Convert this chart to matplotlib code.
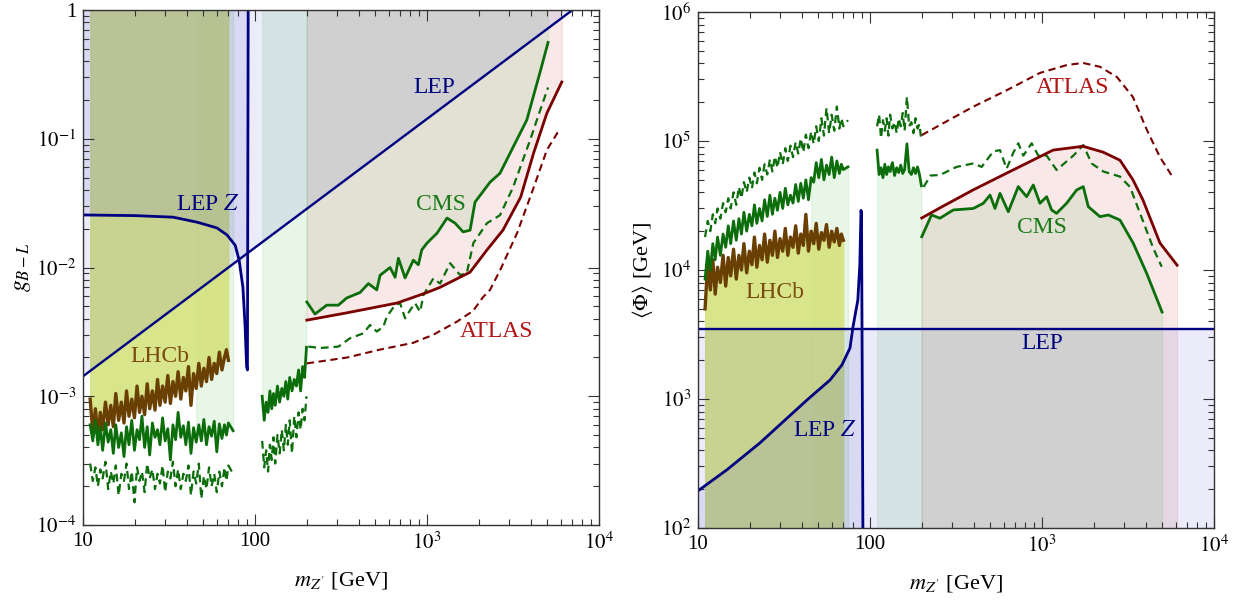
import matplotlib.pyplot as plt
import numpy as np
from matplotlib.ticker import NullFormatter, LogLocator

plt.rcParams['font.family'] = ['Liberation Serif', 'DejaVu Serif']
plt.rcParams['mathtext.fontset'] = 'stix'

# ---- data ----
# mass grids [GeV]
m_low = [11.0, 11.4, 11.8, 12.2, 12.6, 13.0, 13.5, 14.0, 14.5, 15.0, 15.5, 16.1, 16.7, 17.3,
         17.9, 18.5, 19.2, 19.9, 20.6, 21.3, 22.0, 22.8, 23.6, 24.4, 25.3, 26.2, 27.1, 28.0,
         29.0, 30.0, 31.1, 32.2, 33.3, 34.5, 35.7, 37.0, 38.3, 39.6, 41.0, 42.4, 43.9, 45.5,
         47.1, 48.7, 50.4, 52.2, 54.0, 55.9, 57.9, 59.9, 62.0, 64.2, 66.4, 68.2, 70.0, 74.5]
m_mid = [110, 113, 116, 119, 122, 125, 128, 131, 135, 139, 143, 147, 151, 155, 159, 164,
         169, 174, 179, 184, 189, 194, 199]

# left panel: coupling g_{B-L}
lhcb_g = np.array([9.5, 5.2, 8.0, 4.8, 7.5, 5.5, 9.0, 6.0, 8.5, 5.8, 10.5, 6.5, 9.0, 6.2, 11.0,
                   7.0, 9.5, 6.8, 12.0, 7.5, 10.0, 7.2, 12.5, 8.0, 11.0, 7.8, 13.5, 8.5, 12.0,
                   9.0, 14.5, 8.8, 13.0, 10.0, 15.5, 9.5, 14.0, 11.0, 17.0, 8.5, 15.0, 11.5,
                   18.0, 12.0, 16.5, 13.0, 20.0, 13.5, 18.0, 15.0, 22.0, 16.0, 20.0, 23.0,
                   19.0]) * 1e-4
cms_low_g = np.array([6.0, 4.5, 6.5, 4.2, 5.8, 3.8, 6.2, 4.4, 5.5, 3.6, 6.0, 4.0, 5.2, 3.4,
                      5.8, 4.2, 6.5, 3.8, 5.5, 4.6, 7.0, 4.0, 5.8, 3.5, 6.2, 4.8, 5.5, 4.2,
                      6.8, 4.5, 5.6, 3.2, 6.0, 4.6, 7.5, 4.8, 5.9, 4.2, 6.3, 3.6, 5.7, 4.4,
                      6.0, 4.5, 6.6, 4.2, 5.8, 4.9, 6.4, 3.7, 6.1, 4.7, 6.0, 5.0, 6.2, 5.4]) * 1e-4
cms_low_exp_g = np.array([3.0, 2.2, 2.8, 2.0, 2.7, 2.3, 3.1, 1.9, 2.6, 2.1, 2.9, 1.7, 2.5, 2.2,
                          3.0, 1.9, 2.6, 1.5, 2.8, 2.2, 2.6, 1.8, 3.0, 2.3, 2.7, 1.9, 2.5, 2.1,
                          2.9, 1.8, 2.6, 2.3, 3.1, 2.0, 2.7, 1.9, 2.5, 2.2, 2.9, 1.7, 2.6, 2.1,
                          3.0, 1.6, 2.4, 1.9, 2.8, 2.0, 2.5, 1.8, 2.6, 2.0, 2.8, 2.2, 2.9, 2.5]) * 1e-4
cms_mid_g = np.array([10.0, 6.5, 9.0, 7.5, 11.0, 8.0, 10.5, 8.5, 12.0, 9.0, 11.5, 10.0, 13.0,
                      9.5, 14.0, 11.0, 13.5, 12.0, 16.0, 11.0, 17.0, 14.0, 24.0]) * 1e-4
cms_mid_exp_g = np.array([4.5, 2.8, 3.8, 2.6, 4.2, 3.2, 4.8, 3.0, 5.0, 3.6, 5.5, 3.8, 6.0, 4.2,
                          6.5, 3.6, 7.0, 4.8, 7.5, 5.5, 8.0, 6.5, 10.0]) * 1e-4

cms_hi_m = [200, 223, 261, 305, 341, 408, 456, 510, 533, 609, 652, 681, 745, 832, 890, 931,
            1000, 1143, 1306, 1455, 1620, 1778, 1900, 2323, 2655, 3162, 3800, 4540, 5050]
cms_hi_g = [5.4e-3, 4.35e-3, 5.1e-3, 5.1e-3, 5.8e-3, 6.4e-3, 7.5e-3, 6.7e-3, 8.7e-3, 0.0100,
            8.4e-3, 0.0118, 8.3e-3, 0.0114, 0.0105, 0.0137, 0.0155, 0.0185, 0.0242, 0.0221,
            0.0189, 0.0195, 0.0322, 0.046, 0.054, 0.086, 0.14, 0.33, 0.56]
cms_hi_exp_m = [204, 239, 305, 356, 426, 466, 510, 557, 583, 652, 697, 745, 797, 852, 911,
                952, 1088, 1190, 1361, 1556, 1700, 1858, 2230, 2655, 3162, 3975, 4540, 5050]
cms_hi_exp_g = [2.43e-3, 2.37e-3, 2.43e-3, 2.82e-3, 3.08e-3, 3.58e-3, 3.18e-3, 3.47e-3,
                4.15e-3, 5.12e-3, 5.28e-3, 4.03e-3, 4.67e-3, 5.28e-3, 4.53e-3, 6.1e-3,
                8.24e-3, 7.5e-3, 0.0108, 8.75e-3, 9.0e-3, 0.0155, 0.0221, 0.0255, 0.042,
                0.098, 0.166, 0.25]
atlas_m = [200, 343, 670, 1000, 1185, 1778, 2230, 2760, 3500, 4170, 4970, 6070]
atlas_g = [3.9e-3, 4.45e-3, 5.3e-3, 6.4e-3, 7.0e-3, 9.2e-3, 0.0137, 0.0195, 0.0352, 0.0781,
           0.158, 0.276]
atlas_exp_m = [200, 343, 530, 830, 1084, 1492, 1850, 2118, 2323, 2655, 3335, 4170, 4970, 5930]
atlas_exp_g = [1.8e-3, 2.0e-3, 2.3e-3, 2.6e-3, 3.0e-3, 3.8e-3, 4.6e-3, 5.9e-3, 6.7e-3,
               9.5e-3, 0.0185, 0.042, 0.0818, 0.12]
lep_m = [10, 7000]
lep_g = [0.00143, 1.0]
lepz_m = [10, 20, 33.4, 46, 60, 68.7, 76.6, 80.8, 85, 87.5, 89.3, 90.3, 91.2]
lepz_g = [0.0256, 0.0253, 0.0246, 0.0225, 0.0203, 0.0179, 0.0149, 0.0114, 0.0070, 0.0035,
          0.0017, 0.0016, 1.0]

# right panel: vev <Phi> [GeV]
lhcb_v = np.array([5.0, 11.5, 7.0, 12.0, 6.5, 10.5, 8.0, 13.0, 7.5, 12.5, 9.0, 14.5, 8.5, 13.0,
                   10.0, 16.0, 9.5, 14.0, 11.0, 18.0, 10.5, 15.5, 12.0, 19.0, 11.5, 17.0, 13.0,
                   20.0, 12.5, 17.5, 14.0, 21.0, 13.0, 18.0, 15.0, 22.0, 13.5, 19.0, 15.5, 27.0,
                   14.0, 20.0, 16.0, 23.0, 14.5, 19.5, 17.0, 22.5, 15.0, 20.0, 16.5, 21.0, 15.5,
                   19.0, 17.0]) * 1e3
cms_low_v = np.array([8.5, 14, 10, 16, 12, 18, 13, 19, 15, 22, 16, 24, 17, 25, 19, 28, 20, 27,
                      22, 32, 23, 30, 24, 35, 26, 38, 27, 36, 29, 40, 30, 43, 32, 38, 33, 46,
                      34, 47, 36, 50, 35, 52, 48, 68, 52, 72, 50, 65, 55, 75, 52, 70, 56, 66,
                      60, 63]) * 1e3
cms_low_exp_v = np.array([18, 24, 20, 27, 23, 30, 25, 33, 28, 36, 30, 40, 32, 44, 36, 48, 40,
                          52, 43, 57, 47, 62, 50, 66, 55, 72, 58, 76, 62, 82, 66, 88, 70, 92,
                          75, 98, 80, 105, 82, 112, 88, 118, 95, 130, 100, 150, 110, 180, 115,
                          160, 120, 185, 125, 150, 130, 145]) * 1e3
cms_mid_v = np.array([85, 55, 62, 52, 66, 55, 63, 58, 68, 54, 62, 57, 65, 56, 60, 95, 58, 55,
                      62, 56, 63, 55, 45]) * 1e3
cms_mid_exp_v = np.array([130, 160, 105, 145, 120, 150, 110, 160, 125, 140, 115, 150, 130, 165,
                          120, 220, 130, 140, 115, 150, 125, 135, 100]) * 1e3

cms_hi_vm = [200, 228, 255, 305, 399, 456, 499, 533, 570, 637, 728, 814, 890, 973, 1064, 1137,
             1216, 1390, 1590, 1738, 1858, 2173, 2430, 2840, 3395, 4064, 4990]
cms_hi_v = [1.81e4, 2.67e4, 2.52e4, 2.92e4, 3.0e4, 3.29e4, 3.81e4, 3.0e4, 3.93e4, 2.83e4,
            4.43e4, 3.7e4, 4.56e4, 3.29e4, 3.7e4, 2.92e4, 2.75e4, 3.29e4, 4.17e4, 4.43e4,
            3.1e4, 2.59e4, 2.67e4, 2.44e4, 1.61e4, 9.4e3, 4.72e3]
cms_hi_exp_vm = [205, 225, 255, 319, 399, 446, 521, 570, 623, 681, 728, 779, 871, 952, 1064,
                 1216, 1521, 1738, 1944, 2273, 2840, 3250, 3715, 4440, 4965]
cms_hi_exp_v = [4.4e4, 5.4e4, 5.45e4, 6.3e4, 6.7e4, 6.3e4, 8.3e4, 8.5e4, 6.1e4, 8.1e4, 9.6e4,
                7.7e4, 9.6e4, 7.7e4, 7.7e4, 5.96e4, 7.7e4, 9.3e4, 6.7e4, 5.8e4, 5.3e4, 4.4e4,
                2.75e4, 1.47e4, 1.06e4]
atlas_vm = [200, 255, 397, 626, 1160, 1730, 2265, 2840, 3380, 3860, 4850, 6100]
atlas_v = [2.53e4, 3.03e4, 4.17e4, 5.65e4, 8.5e4, 9.1e4, 8.2e4, 7.1e4, 5.0e4, 3.5e4, 1.62e4,
           1.09e4]
atlas_exp_vm = [200, 255, 397, 626, 973, 1396, 1730, 2173, 2730, 3380, 4070, 4850, 5780]
atlas_exp_v = [1.11e5, 1.33e5, 1.84e5, 2.48e5, 3.37e5, 3.88e5, 4.03e5, 3.76e5, 3.13e5, 2.19e5,
               1.22e5, 7.5e4, 5.2e4]
lep_v = 3500
lepz_vm = [10, 14.7, 22.9, 43, 58.5, 68.7, 76.5, 79.6, 85, 87.3, 88.7, 89.3, 91.2]
lepz_v = [194, 282, 456, 981, 1400, 1836, 2480, 3600, 5850, 11000, 29000, 27000, 50]

# ---- styles ----
BLUE = '#3c3cc8'
LHCB_FILL = '#d4e37d'
GREEN = '#22aa22'
RED = '#cc2222'
NAVY = '#000080'
CMS_C = '#0b6e0b'
LHCB_C = '#6a3f02'
ATLAS_C = '#7a0000'
DASH = (0, (3.5, 2.2))


def shade(ax, x, lo, hi, color, alpha):
    ax.fill_between(x, lo, hi, color=color, alpha=alpha, lw=0.8)


def style_axes(ax, ymin, ymax, yticks, ylabels):
    ax.set_xscale('log')
    ax.set_yscale('log')
    ax.set_xlim(10, 1e4)
    ax.set_ylim(ymin, ymax)
    ax.set_xticks([10, 100, 1000, 10000])
    ax.set_xticklabels(['10', '100', r'$10^3$', r'$10^4$'])
    ax.set_yticks(yticks)
    ax.set_yticklabels(ylabels)
    ax.xaxis.set_minor_locator(LogLocator(subs=np.arange(2, 10)))
    ax.yaxis.set_minor_locator(LogLocator(subs=np.arange(2, 10)))
    ax.xaxis.set_minor_formatter(NullFormatter())
    ax.yaxis.set_minor_formatter(NullFormatter())
    ax.tick_params(which='both', direction='in', top=True, right=True, labelsize=15,
                   color='#333333', width=0.8)
    ax.tick_params(which='major', length=8, pad=5)
    ax.tick_params(which='minor', length=4)
    for s in ax.spines.values():
        s.set_color('#333333')
        s.set_linewidth(1.0)
    ax.set_xlabel(r"$m_{Z'}$ [GeV]", fontsize=16, labelpad=12)


fig = plt.figure(figsize=(12.45, 6), dpi=100)

# ================= left panel =================
ax = fig.add_axes([0.0667, 0.125, 0.4145, 0.8583])
top = 1.0
shade(ax, atlas_m, atlas_g, top, RED, 0.1)
shade(ax, cms_hi_m, cms_hi_g, top, GREEN, 0.1)
shade(ax, m_mid, cms_mid_g, top, GREEN, 0.1)
shade(ax, m_low[41:], cms_low_g[41:], top, GREEN, 0.1)
shade(ax, m_low[:55], lhcb_g, top, LHCB_FILL, 0.9)
shade(ax, lep_m, lep_g, top, BLUE, 0.1)
shade(ax, lepz_m, lepz_g, top, BLUE, 0.1)

ax.plot(m_low, cms_low_exp_g, color=CMS_C, lw=1.6, ls=DASH)
ax.plot(m_mid, cms_mid_exp_g, color=CMS_C, lw=1.6, ls=DASH)
ax.plot(cms_hi_exp_m, cms_hi_exp_g, color=CMS_C, lw=1.6, ls=DASH)
ax.plot(atlas_exp_m, atlas_exp_g, color=ATLAS_C, lw=1.5, ls=DASH)
ax.plot(m_low[:55], lhcb_g, color=LHCB_C, lw=2.4)
ax.plot(m_low, cms_low_g, color=CMS_C, lw=2.0)
ax.plot(m_mid, cms_mid_g, color=CMS_C, lw=2.0)
ax.plot(cms_hi_m, cms_hi_g, color=CMS_C, lw=2.0)
ax.plot(atlas_m, atlas_g, color=ATLAS_C, lw=2.0)
ax.plot(lep_m, lep_g, color=NAVY, lw=1.7)
ax.plot(lepz_m, lepz_g, color=NAVY, lw=2.0)

ax.text(1100, 0.248, 'LEP', color=NAVY, fontsize=17, ha='center', va='center')
ax.text(53, 0.031, r'LEP $Z$', color=NAVY, fontsize=17, ha='center', va='center')
ax.text(1206, 0.031, 'CMS', color='#1a7a1a', fontsize=17, ha='center', va='center')
ax.text(28, 2.02e-3, 'LHCb', color='#7a4a10', fontsize=17, ha='center', va='center')
ax.text(2518, 3.21e-3, 'ATLAS', color='#b01515', fontsize=17, ha='center', va='center')

style_axes(ax, 1e-4, 1, [1e-4, 1e-3, 1e-2, 1e-1, 1],
           [r'$10^{-4}$', r'$10^{-3}$', r'$10^{-2}$', r'$10^{-1}$', '1'])
ax.set_ylabel(r'$g_{B-L}$', fontsize=17, labelpad=2)

# ================= right panel =================
ax = fig.add_axes([0.5606, 0.12, 0.4145, 0.86])
bot = 100
shade(ax, atlas_vm, bot, atlas_v, RED, 0.1)
shade(ax, cms_hi_vm, bot, cms_hi_v, GREEN, 0.1)
shade(ax, m_mid, bot, cms_mid_v, GREEN, 0.1)
shade(ax, m_low[41:], bot, cms_low_v[41:], GREEN, 0.1)
shade(ax, m_low[:55], bot, lhcb_v, LHCB_FILL, 0.9)
shade(ax, [10, 1e4], bot, lep_v, BLUE, 0.1)
shade(ax, lepz_vm, bot, lepz_v, BLUE, 0.1)

ax.plot(m_low, cms_low_exp_v, color=CMS_C, lw=1.6, ls=DASH)
ax.plot(m_mid, cms_mid_exp_v, color=CMS_C, lw=1.6, ls=DASH)
ax.plot(cms_hi_exp_vm, cms_hi_exp_v, color=CMS_C, lw=1.6, ls=DASH)
ax.plot(atlas_exp_vm, atlas_exp_v, color=ATLAS_C, lw=1.5, ls=DASH)
ax.plot(m_low[:55], lhcb_v, color=LHCB_C, lw=2.4)
ax.plot(m_low, cms_low_v, color=CMS_C, lw=2.0)
ax.plot(m_mid, cms_mid_v, color=CMS_C, lw=2.0)
ax.plot(cms_hi_vm, cms_hi_v, color=CMS_C, lw=2.0)
ax.plot(atlas_vm, atlas_v, color=ATLAS_C, lw=2.0)
ax.axhline(lep_v, color=NAVY, lw=1.7)
ax.plot(lepz_vm, lepz_v, color=NAVY, lw=2.0)

ax.text(1514, 2.58e5, 'ATLAS', color='#b01515', fontsize=17, ha='center', va='center')
ax.text(1000, 2.15e4, 'CMS', color='#1a7a1a', fontsize=17, ha='center', va='center')
ax.text(1000, 2670, 'LEP', color=NAVY, fontsize=17, ha='center', va='center')
ax.text(54.7, 565, r'LEP $Z$', color=NAVY, fontsize=17, ha='center', va='center')
ax.text(28, 6750, 'LHCb', color='#7a4a10', fontsize=17, ha='center', va='center')

style_axes(ax, 1e2, 1e6, [1e2, 1e3, 1e4, 1e5, 1e6],
           [r'$10^{2}$', r'$10^{3}$', r'$10^{4}$', r'$10^{5}$', r'$10^{6}$'])
ax.set_ylabel(r'$\langle\Phi\rangle$ [GeV]', fontsize=16, labelpad=4)

fig.savefig('out.png', dpi=100)
